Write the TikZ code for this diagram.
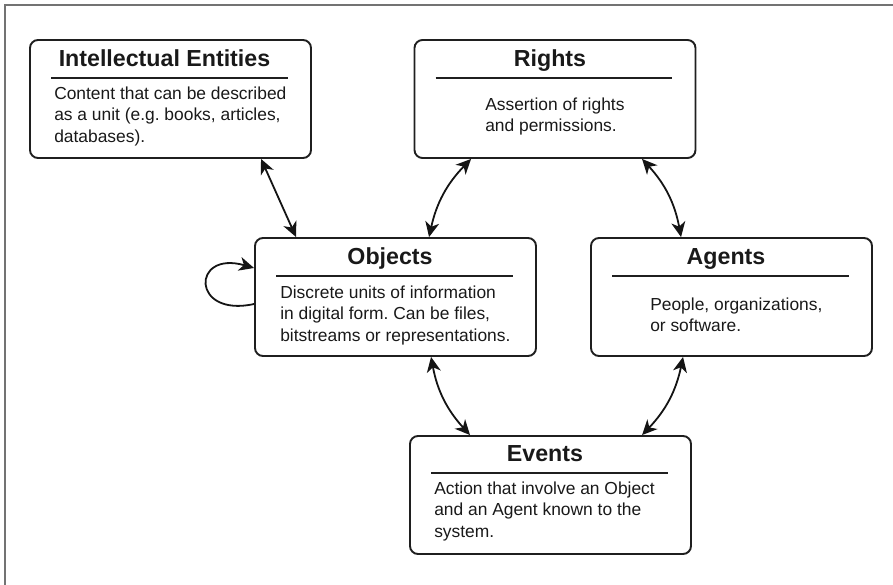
\documentclass[tikz,border=0pt]{standalone}
\usepackage{fontspec}
\setmainfont{Liberation Sans}
\usetikzlibrary{arrows.meta,calc}
\newcommand\bodylines[1]{\vtop{\baselineskip=21.5pt #1}}
\frenchspacing
\begin{document}
\begin{tikzpicture}[x=1pt,y=-1pt,
  box/.style={draw=black!88, line width=1.9pt, rounded corners=8pt,
    minimum width=281pt, minimum height=118pt, inner sep=0pt},
  boxtitle/.style={anchor=base, inner sep=0pt, text=black!90,
    font=\fontsize{23.2}{27}\selectfont\bfseries},
  boxbody/.style={anchor=base west, inner sep=0pt, text=black!90,
    font=\fontsize{17.4}{21.5}\selectfont},
  boxrule/.style={line width=1.9pt, draw=black!88},
  link/.style={line width=1.8pt, draw=black!92,
    >={Stealth[length=15pt,width=14pt,inset=4.5pt]}, <->},
  selfloop/.style={line width=1.8pt, draw=black!92,
    -{Stealth[length=15pt,width=14pt,inset=4.5pt]}},
  frameline/.style={line width=2pt, draw=black!55}]

\useasboundingbox (0,0) rectangle (893,585);
\draw[frameline] (4.5,585) -- (4.5,5) -- (893,5);

% boxes
\node[box] (ie)  at (170.5,99)  {};
\node[box] (rt)  at (555,99)    {};
\node[box] (obj) at (395.5,297) {};
\node[box] (ag)  at (731.5,297) {};
\node[box] (ev)  at (550.5,495) {};

% titles
\node[boxtitle] (ieT)  at ($(ie.north)+(-6,27)$)  {Intellectual Entities};
\node[boxtitle] (rtT)  at ($(rt.north)+(-5,27)$)  {Rights};
\node[boxtitle] (objT) at ($(obj.north)+(-5.5,27)$) {Objects};
\node[boxtitle] (agT)  at ($(ag.north)+(-5.5,27)$)  {Agents};
\node[boxtitle] (evT)  at ($(ev.north)+(-5.5,26)$)  {Events};

% rules
\draw[boxrule] ($(ie.north west)+(22,39)$)  -- ($(ie.north east)+(-24,39)$);
\draw[boxrule] ($(rt.north west)+(22,39)$)  -- ($(rt.north east)+(-24,39)$);
\draw[boxrule] ($(obj.north west)+(22,39)$) -- ($(obj.north east)+(-24,39)$);
\draw[boxrule] ($(ag.north west)+(22,39)$)  -- ($(ag.north east)+(-24,39)$);
\draw[boxrule] ($(ev.north west)+(22,38)$)  -- ($(ev.north east)+(-24,38)$);

% bodies
\node[boxbody] (ieB) at ($(ie.north west)+(25,60)$)
  {\bodylines{\hbox{Content that can be described}\hbox{as a unit (e.g. books, articles,}\hbox{databases).}}};
\node[boxbody] (rtB) at ($(rt.north west)+(71.5,71)$)
  {\bodylines{\hbox{Assertion of rights}\hbox{and permissions.}}};
\node[boxbody] (objB) at ($(obj.north west)+(26,61)$)
  {\bodylines{\hbox{Discrete units of information}\hbox{in digital form. Can be files,}\hbox{bitstreams or representations.}}};
\node[boxbody] (agB) at ($(ag.north west)+(60,73)$)
  {\bodylines{\hbox{People, organizations,}\hbox{or software.}}};
\node[boxbody] (evB) at ($(ev.north west)+(25,59)$)
  {\bodylines{\hbox{Action that involve an Object}\hbox{and an Agent known to the}\hbox{system.}}};

% connectors
\draw[link] ($(ie.south west)+(232,0)$) -- ($(obj.north west)+(42,0)$);
\draw[link] ($(rt.south west)+(57.5,0)$) to[bend right=16] ($(obj.north west)+(175,0)$);
\draw[link] ($(rt.south west)+(228.5,0)$) to[bend left=16] ($(ag.north west)+(91,0)$);
\draw[link] ($(obj.south west)+(177,0)$) to[bend right=16] ($(ev.north west)+(61,0)$);
\draw[link] ($(ag.south west)+(93,0)$) to[bend left=16] ($(ev.north west)+(233,0)$);

% self loop on Objects
\draw[selfloop] ($(obj.west)+(0,7)$) .. controls (191,318) and (191,250) .. ($(obj.west)+(0,-29)$);
\end{tikzpicture}
\end{document}
